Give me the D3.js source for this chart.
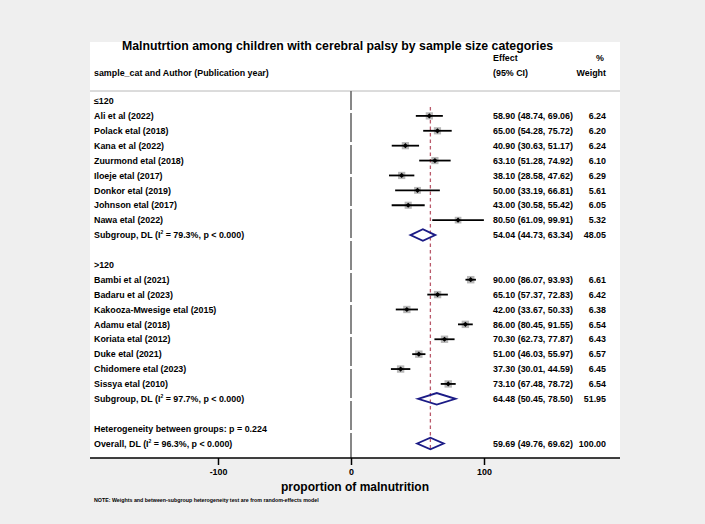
<!DOCTYPE html>
<html><head><meta charset="utf-8">
<script src="https://cdn.jsdelivr.net/npm/d3@7"></script>
<style>
html,body{margin:0;padding:0;background:#efefef;}
svg{display:block;font-family:"Liberation Sans",Arial,Helvetica,sans-serif;font-weight:bold;}
</style></head>
<body><svg id="chart" width="705" height="524"></svg>
<script>
// ---- data ----
const title = "Malnutrtion among children with cerebral palsy by sample size categories";
const groupLabels = ["≤120", ">120"];
const g1Studies = ["Ali et al (2022)","Polack etal (2018)","Kana et al (2022)","Zuurmond etal (2018)","Iloeje etal (2017)","Donkor etal (2019)","Johnson etal (2017)","Nawa etal (2022)"];
const g1ES  = [58.90, 65.00, 40.90, 63.10, 38.10, 50.00, 43.00, 80.50];
const g1LCI = [48.74, 54.28, 30.63, 51.28, 28.58, 33.19, 30.58, 61.09];
const g1UCI = [69.06, 75.72, 51.17, 74.92, 47.62, 66.81, 55.42, 99.91];
const g1W   = [6.24, 6.20, 6.24, 6.10, 6.29, 5.61, 6.05, 5.32];
const g2Studies = ["Bambi et al (2021)","Badaru et al (2023)","Kakooza-Mwesige etal (2015)","Adamu etal (2018)","Koriata etal (2012)","Duke etal (2021)","Chidomere etal (2023)","Sissya etal (2010)"];
const g2ES  = [90.00, 65.10, 42.00, 86.00, 70.30, 51.00, 37.30, 73.10];
const g2LCI = [86.07, 57.37, 33.67, 80.45, 62.73, 46.03, 30.01, 67.48];
const g2UCI = [93.93, 72.83, 50.33, 91.55, 77.87, 55.97, 44.59, 78.72];
const g2W   = [6.61, 6.42, 6.38, 6.54, 6.43, 6.57, 6.45, 6.54];
const subI2 = ["79.3%", "97.7%"];
const subES  = [54.04, 64.48];
const subLCI = [44.73, 50.45];
const subUCI = [63.34, 78.50];
const subW   = [48.05, 51.95];
const hetP = "0.224";
const overallI2 = "96.3%";
const overallES = 59.69, overallLCI = 49.76, overallUCI = 69.62, overallW = 100.00;
const xTicks = [-100, 0, 100];
const xTitle = "proportion of malnutrition";
const note = "NOTE: Weights and between-subgroup heterogeneity test are from random-effects model";

// ---- build rows ----
const rows = [];
const groups = [[g1Studies,g1ES,g1LCI,g1UCI,g1W],[g2Studies,g2ES,g2LCI,g2UCI,g2W]];
groups.forEach((g,gi)=>{
  rows.push({type:"head", label:groupLabels[gi]});
  g[0].forEach((s,i)=>rows.push({type:"study", label:s, es:g[1][i], lci:g[2][i], uci:g[3][i], w:g[4][i]}));
  rows.push({type:"sub", i2:subI2[gi], es:subES[gi], lci:subLCI[gi], uci:subUCI[gi], w:subW[gi]});
  rows.push({type:"blank"});
});
rows.push({type:"het"});
rows.push({type:"overall", i2:overallI2, es:overallES, lci:overallLCI, uci:overallUCI, w:overallW});

const svg = d3.select("#chart");
const x = d3.scaleLinear().domain([-100,100]).range([218,484]);
const y = d3.scaleLinear().domain([0, 23]).range([101, 443.5]);
const fmt = d3.format(".2f");
const fs = 8.9;

// panel
svg.append("rect").attr("x",90).attr("y",42).attr("width",530).attr("height",416).attr("fill","#fff");
svg.append("line").attr("x1",90).attr("x2",620).attr("y1",91).attr("y2",91).attr("stroke","#b8b8b8").attr("stroke-width",1);

// title & headers
svg.append("text").attr("x",337.5).attr("y",50).attr("text-anchor","middle").attr("font-size",12.3).attr("fill","#000").text(title);
svg.append("text").attr("x",94).attr("y",75.5).attr("font-size",fs).text("sample_cat and Author (Publication year)");
svg.append("text").attr("x",493).attr("y",60.5).attr("font-size",fs).text("Effect");
svg.append("text").attr("x",493).attr("y",75.5).attr("font-size",fs).text("(95% CI)");
svg.append("text").attr("x",604).attr("y",60.5).attr("font-size",fs).attr("text-anchor","end").text("%");
svg.append("text").attr("x",606).attr("y",75.5).attr("font-size",fs).attr("text-anchor","end").text("Weight");

// zero line
svg.append("line").attr("x1",x(0)).attr("x2",x(0)).attr("y1",91).attr("y2",458)
  .attr("stroke","#6a6a6a").attr("stroke-width",1.6).attr("stroke-dasharray","29,3").attr("stroke-dashoffset",10);
// overall effect line
svg.append("line").attr("x1",x(overallES)).attr("x2",x(overallES)).attr("y1",107).attr("y2",450)
  .attr("stroke","#b9596a").attr("stroke-width",1.3).attr("stroke-dasharray","3.5,3");

function i2label(sel, prefix, i2){
  const t = sel.append("text").attr("font-size",fs);
  t.append("tspan").text(prefix + " (I");
  t.append("tspan").attr("dy",-4).attr("font-size",5).text("2");
  t.append("tspan").attr("dy",4).text(" = " + i2 + ", p < 0.000)");
  return t;
}

rows.forEach((r,i)=>{
  const cy = y(i), by = cy + 3.2;
  if (r.type==="head") {
    svg.append("text").attr("x",94).attr("y",by).attr("font-size",fs).text(r.label);
  } else if (r.type==="study") {
    svg.append("text").attr("x",94).attr("y",by).attr("font-size",fs).text(r.label);
    const s = 2.9*Math.sqrt(r.w);
    svg.append("rect").attr("x",x(r.es)-s/2).attr("y",cy-s/2).attr("width",s).attr("height",s).attr("fill","#b8b8b8");
    svg.append("line").attr("x1",x(r.lci)).attr("x2",x(r.uci)).attr("y1",cy).attr("y2",cy).attr("stroke","#000").attr("stroke-width",1.8);
    const d = 2.6;
    svg.append("path").attr("d",`M${x(r.es)-d},${cy}L${x(r.es)},${cy-d}L${x(r.es)+d},${cy}L${x(r.es)},${cy+d}Z`).attr("fill","#000");
    svg.append("text").attr("x",493).attr("y",by).attr("font-size",fs).text(`${fmt(r.es)} (${fmt(r.lci)}, ${fmt(r.uci)})`);
    svg.append("text").attr("x",606).attr("y",by).attr("font-size",fs).attr("text-anchor","end").text(fmt(r.w));
  } else if (r.type==="sub" || r.type==="overall") {
    i2label(svg, r.type==="sub" ? "Subgroup, DL" : "Overall, DL", r.i2).attr("x",94).attr("y",by);
    const h = 5.8;
    svg.append("path").attr("d",`M${x(r.lci)},${cy}L${x(r.es)},${cy-h}L${x(r.uci)},${cy}L${x(r.es)},${cy+h}Z`)
      .attr("fill","none").attr("stroke","#1b1b86").attr("stroke-width",1.9).attr("stroke-linejoin","miter");
    svg.append("text").attr("x",493).attr("y",by).attr("font-size",fs).text(`${fmt(r.es)} (${fmt(r.lci)}, ${fmt(r.uci)})`);
    svg.append("text").attr("x",606).attr("y",by).attr("font-size",fs).attr("text-anchor","end").text(fmt(r.w));
  } else if (r.type==="het") {
    svg.append("text").attr("x",94).attr("y",by).attr("font-size",fs).text("Heterogeneity between groups: p = " + hetP);
  }
});

// axis
svg.append("line").attr("x1",90).attr("x2",620).attr("y1",458).attr("y2",458).attr("stroke","#000").attr("stroke-width",1.3);
const ax = svg.append("g").attr("transform","translate(0,458)")
  .call(d3.axisBottom(x).tickValues(xTicks).tickSize(7).tickPadding(4).tickFormat(d => String(d)));
ax.select(".domain").remove();
ax.selectAll(".tick line").attr("stroke","#000").attr("stroke-width",1.5);
ax.selectAll(".tick text").attr("font-size",fs).attr("font-family",null).attr("fill","#000");
svg.append("text").attr("x",355).attr("y",490.5).attr("text-anchor","middle").attr("font-size",12).text(xTitle);
svg.append("text").attr("x",94).attr("y",502).attr("font-size",5.3).text(note);
</script></body></html>
